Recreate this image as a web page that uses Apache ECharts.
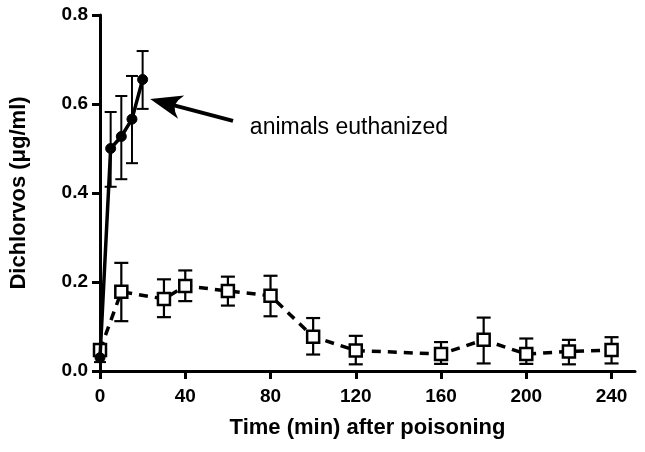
<!DOCTYPE html>
<html>
<head>
<meta charset="utf-8">
<script src="https://cdn.jsdelivr.net/npm/echarts@6/dist/echarts.min.js"></script>
<style>
html,body{margin:0;padding:0;background:#fff;}
#chart{width:645px;height:452px;}
</style>
</head>
<body>
<div id="chart"></div>
<script>
// Series 1 (solid line, filled circles) - animals euthanized at 20 min
const timeSolid = [0, 5, 10, 15, 20];
const meanSolid = [0.030, 0.500, 0.527, 0.566, 0.655];
const lowSolid  = [0.020, 0.414, 0.431, 0.467, 0.589];
const highSolid = [0.040, 0.582, 0.618, 0.663, 0.719];

// Series 2 (dashed line, open squares)
const timeDashed = [0, 10, 30, 40, 60, 80, 100, 120, 160, 180, 200, 220, 240];
const meanDashed = [0.047, 0.178, 0.162, 0.191, 0.180, 0.169, 0.077, 0.046, 0.038, 0.070, 0.038, 0.044, 0.047];
const lowDashed  = [0.037, 0.112, 0.121, 0.157, 0.147, 0.123, 0.037, 0.015, 0.016, 0.017, 0.016, 0.015, 0.017];
const highDashed = [0.057, 0.243, 0.206, 0.226, 0.212, 0.214, 0.119, 0.079, 0.065, 0.120, 0.073, 0.070, 0.076];

const xTicks = [0, 40, 80, 120, 160, 200, 240];
const yTicks = [0.0, 0.2, 0.4, 0.6, 0.8];

const xTitle = 'Time (min) after poisoning';
const yTitle = 'Dichlorvos (\u03bcg/ml)';
const noteText = 'animals euthanized';
// annotation arrow: tail and head in data units, text anchor
const arrowTail = [62.4, 0.562];
const arrowHead = [30.8, 0.602];
const noteAnchor = [70.3, 0.547];

const FONT = "'Liberation Sans', Arial, Helvetica, sans-serif";

const chart = echarts.init(document.getElementById('chart'), null, {renderer: 'canvas'});

function errorBarRender(capHalf, lw) {
  return function (params, api) {
    const x = api.value(0), lo = api.value(1), hi = api.value(2);
    const pLo = api.coord([x, lo]);
    const pHi = api.coord([x, hi]);
    const style = {stroke: '#000', lineWidth: lw};
    return {
      type: 'group',
      children: [
        {type: 'line', shape: {x1: pLo[0], y1: pLo[1], x2: pHi[0], y2: pHi[1]}, style: style},
        {type: 'line', shape: {x1: pHi[0] - capHalf, y1: pHi[1], x2: pHi[0] + capHalf, y2: pHi[1]}, style: style},
        {type: 'line', shape: {x1: pLo[0] - capHalf, y1: pLo[1], x2: pLo[0] + capHalf, y2: pLo[1]}, style: style}
      ]
    };
  };
}

const option = {
  backgroundColor: '#ffffff',
  animation: false,
  grid: {left: 100, right: 10, top: 15, bottom: 81, containLabel: false},
  xAxis: {
    type: 'value',
    min: 0,
    max: 251,
    name: xTitle,
    nameLocation: 'middle',
    nameGap: 46,
    nameTextStyle: {fontFamily: FONT, fontWeight: 'bold', fontSize: 22, color: '#000'},
    axisLine: {show: true, onZero: false, lineStyle: {color: '#000', width: 3}},
    axisTick: {show: true, inside: false, length: 8, lineStyle: {color: '#000', width: 3}, customValues: xTicks},
    axisLabel: {fontFamily: FONT, fontWeight: 'bold', fontSize: 19, color: '#000', margin: 16, customValues: xTicks},
    splitLine: {show: false}
  },
  yAxis: {
    type: 'value',
    min: 0,
    max: 0.8,
    interval: 0.2,
    name: yTitle,
    nameLocation: 'middle',
    nameGap: 70,
    nameTextStyle: {fontFamily: FONT, fontWeight: 'bold', fontSize: 22, color: '#000'},
    axisLine: {show: true, onZero: false, lineStyle: {color: '#000', width: 3}},
    axisTick: {show: true, inside: false, length: 8, lineStyle: {color: '#000', width: 3}},
    axisLabel: {fontFamily: FONT, fontWeight: 'bold', fontSize: 19, color: '#000', margin: 12,
      formatter: function (v) { return v.toFixed(1); }},
    splitLine: {show: false}
  },
  series: [
    {
      name: 'errDashed',
      type: 'custom',
      renderItem: errorBarRender(7, 2.2),
      data: timeDashed.map((t, i) => [t, lowDashed[i], highDashed[i]]),
      z: 2,
      silent: true
    },
    {
      name: 'errSolid',
      type: 'custom',
      renderItem: errorBarRender(6, 2),
      data: timeSolid.map((t, i) => [t, lowSolid[i], highSolid[i]]),
      z: 2,
      silent: true
    },
    {
      name: 'dashed',
      type: 'line',
      data: timeDashed.map((t, i) => [t, meanDashed[i]]),
      symbol: 'rect',
      symbolSize: 12,
      showAllSymbol: true,
      lineStyle: {color: '#000', width: 3.5, type: [9, 7]},
      itemStyle: {color: '#fff', borderColor: '#000', borderWidth: 2.5},
      z: 3
    },
    {
      name: 'solid',
      type: 'line',
      data: timeSolid.map((t, i) => [t, meanSolid[i]]),
      symbol: 'circle',
      symbolSize: 10,
      showAllSymbol: true,
      lineStyle: {color: '#000', width: 3.5},
      itemStyle: {color: '#000', borderColor: '#000', borderWidth: 1},
      z: 4,
      markLine: {
        silent: true,
        animation: false,
        lineStyle: {color: '#000', width: 4, type: 'solid'},
        label: {show: false},
        symbol: ['none', 'path://M0,0 L10,28 L5,24 L0,22 L-5,24 L-10,28 Z'],
        symbolSize: [24, 32],
        symbolOffset: [0, 0],
        data: [[{coord: arrowTail}, {coord: arrowHead}]]
      },
      markPoint: {
        silent: true,
        animation: false,
        symbol: 'circle',
        symbolSize: 0,
        itemStyle: {color: 'rgba(0,0,0,0)'},
        label: {show: true, position: 'right', distance: 0, formatter: noteText,
          fontFamily: FONT, fontSize: 23, color: '#000', fontWeight: 'normal'},
        data: [{coord: noteAnchor}]
      }
    }
  ]
};

chart.setOption(option);
</script>
</body>
</html>
